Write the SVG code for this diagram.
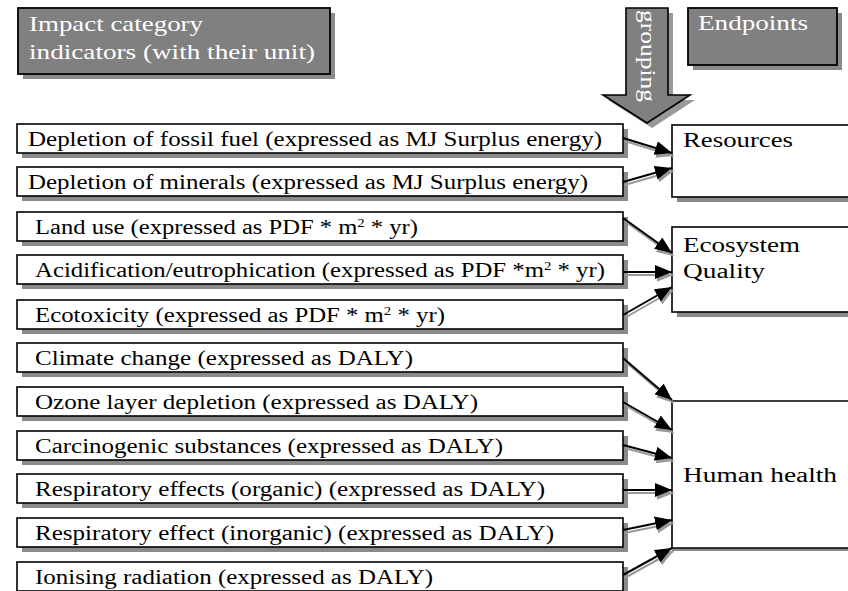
<svg xmlns="http://www.w3.org/2000/svg" width="848" height="591" viewBox="0 0 848 591">
<style>
.box{fill:#fff;stroke:#000;stroke-width:1.6}
.sh{fill:#8a8a8a}
.hdr{fill:#808080;stroke:#000;stroke-width:1.8}
.t{font-family:"Liberation Serif","Times New Roman",serif;font-size:20px;fill:#000}
.w{font-family:"Liberation Serif","Times New Roman",serif;font-size:21px;fill:#fff}
.ln{stroke:#000;stroke-width:2;fill:none;marker-end:url(#ah)}
.lns{stroke:#999;stroke-width:2;fill:none;marker-end:url(#ahs)}
</style>
<defs>
<marker id="ah" markerUnits="userSpaceOnUse" markerWidth="17" markerHeight="14" refX="17" refY="7" orient="auto"><path d="M0,0 L17,7 L0,14 z" fill="#000"/></marker>
<marker id="ahs" markerUnits="userSpaceOnUse" markerWidth="17" markerHeight="14" refX="17" refY="7" orient="auto"><path d="M0,0 L17,7 L0,14 z" fill="#999"/></marker>
</defs>
<rect width="848" height="591" fill="#fff"/>

<g id="header-impact">
<rect class="sh" x="23" y="13" width="312" height="66"/>
<rect class="hdr" x="18" y="8" width="312" height="66"/>
<text class="w" x="29" y="31" textLength="174" lengthAdjust="spacingAndGlyphs">Impact category</text>
<text class="w" x="29" y="59" textLength="286" lengthAdjust="spacingAndGlyphs">indicators (with their unit)</text>
</g>

<g id="grouping-arrow">
<path d="M631,13 L673,13 L673,100 L695,100 L652,128 L608,100 L631,100 z" fill="#999"/>
<path d="M626,8 L668,8 L668,95 L690,95 L647,123 L603,95 L626,95 z" fill="#808080" stroke="#000" stroke-width="1.6"/>
<text class="w" transform="translate(641,56) rotate(90)" text-anchor="middle" textLength="92" lengthAdjust="spacingAndGlyphs">grouping</text>
</g>

<g id="header-endpoints">
<rect class="sh" x="693" y="13" width="149" height="57"/>
<rect class="hdr" x="688" y="8" width="149" height="57"/>
<text class="w" x="698" y="30" textLength="110" lengthAdjust="spacingAndGlyphs">Endpoints</text>
</g>

<g id="ind1"><rect class="sh" x="22" y="129" width="606" height="29"/><rect class="box" x="17" y="124" width="606" height="29"/><text class="t" x="28" y="146" textLength="574" lengthAdjust="spacingAndGlyphs">Depletion of fossil fuel (expressed as MJ Surplus energy)</text></g>
<g id="ind2"><rect class="sh" x="22" y="172" width="606" height="29"/><rect class="box" x="17" y="167" width="606" height="29"/><text class="t" x="28" y="189" textLength="560" lengthAdjust="spacingAndGlyphs">Depletion of minerals (expressed as MJ Surplus energy)</text></g>
<g id="ind3"><rect class="sh" x="22" y="217" width="606" height="29"/><rect class="box" x="17" y="212" width="606" height="29"/><text class="t" x="35" y="234" textLength="383" lengthAdjust="spacingAndGlyphs">Land use (expressed as PDF * m<tspan dy="-7" font-size="12">2</tspan><tspan dy="7"> * yr)</tspan></text></g>
<g id="ind4"><rect class="sh" x="22" y="260" width="606" height="29"/><rect class="box" x="17" y="255" width="606" height="29"/><text class="t" x="35" y="277" textLength="570" lengthAdjust="spacingAndGlyphs">Acidification/eutrophication (expressed as PDF *m<tspan dy="-7" font-size="12">2</tspan><tspan dy="7"> * yr)</tspan></text></g>
<g id="ind5"><rect class="sh" x="22" y="305" width="606" height="29"/><rect class="box" x="17" y="300" width="606" height="29"/><text class="t" x="35" y="322" textLength="410" lengthAdjust="spacingAndGlyphs">Ecotoxicity (expressed as PDF * m<tspan dy="-7" font-size="12">2</tspan><tspan dy="7"> * yr)</tspan></text></g>
<g id="ind6"><rect class="sh" x="22" y="348" width="606" height="29"/><rect class="box" x="17" y="343" width="606" height="29"/><text class="t" x="35" y="365" textLength="378" lengthAdjust="spacingAndGlyphs">Climate change (expressed as DALY)</text></g>
<g id="ind7"><rect class="sh" x="22" y="392" width="606" height="29"/><rect class="box" x="17" y="387" width="606" height="29"/><text class="t" x="35" y="409" textLength="443" lengthAdjust="spacingAndGlyphs">Ozone layer depletion (expressed as DALY)</text></g>
<g id="ind8"><rect class="sh" x="22" y="436" width="606" height="29"/><rect class="box" x="17" y="431" width="606" height="29"/><text class="t" x="35" y="453" textLength="468" lengthAdjust="spacingAndGlyphs">Carcinogenic substances (expressed as DALY)</text></g>
<g id="ind9"><rect class="sh" x="22" y="479" width="606" height="29"/><rect class="box" x="17" y="474" width="606" height="29"/><text class="t" x="35" y="496" textLength="510" lengthAdjust="spacingAndGlyphs">Respiratory effects (organic) (expressed as DALY)</text></g>
<g id="ind10"><rect class="sh" x="22" y="523" width="606" height="29"/><rect class="box" x="17" y="518" width="606" height="29"/><text class="t" x="35" y="540" textLength="519" lengthAdjust="spacingAndGlyphs">Respiratory effect (inorganic) (expressed as DALY)</text></g>
<g id="ind11"><rect class="sh" x="22" y="567" width="606" height="29"/><rect class="box" x="17" y="562" width="606" height="29"/><text class="t" x="35" y="584" textLength="398" lengthAdjust="spacingAndGlyphs">Ionising radiation (expressed as DALY)</text></g>

<g id="ep-resources"><rect class="sh" x="677" y="130" width="200" height="72"/><rect class="box" x="672" y="125" width="200" height="72"/><text class="t" x="683" y="147" textLength="110" lengthAdjust="spacingAndGlyphs">Resources</text></g>
<g id="ep-ecosystem"><rect class="sh" x="677" y="232" width="200" height="85"/><rect class="box" x="672" y="227" width="200" height="85"/><text class="t" x="683" y="252" textLength="117" lengthAdjust="spacingAndGlyphs">Ecosystem</text><text class="t" x="683" y="278" textLength="82" lengthAdjust="spacingAndGlyphs">Quality</text></g>
<g id="ep-human"><rect class="sh" x="672" y="548" width="200" height="3"/><path d="M848,401 L672,401 L672,548 L848,548" fill="#fff" stroke="#000" stroke-width="1.6"/><text class="t" x="683" y="482" textLength="154" lengthAdjust="spacingAndGlyphs">Human health</text></g>

<g id="connectors">
<g transform="translate(1.5,3)">
<line class="lns" x1="623" y1="138" x2="672" y2="153"/>
<line class="lns" x1="623" y1="182" x2="672" y2="168"/>
<line class="lns" x1="623" y1="218" x2="672" y2="253"/>
<line class="lns" x1="623" y1="272" x2="672" y2="272"/>
<line class="lns" x1="623" y1="315" x2="672" y2="287"/>
<line class="lns" x1="623" y1="358" x2="672" y2="400"/>
<line class="lns" x1="623" y1="402" x2="672" y2="430"/>
<line class="lns" x1="623" y1="445" x2="672" y2="458"/>
<line class="lns" x1="623" y1="490" x2="672" y2="490"/>
<line class="lns" x1="623" y1="530" x2="672" y2="520"/>
<line class="lns" x1="623" y1="575" x2="672" y2="548"/>
</g>
<line class="ln" x1="623" y1="138" x2="672" y2="153"/>
<line class="ln" x1="623" y1="182" x2="672" y2="168"/>
<line class="ln" x1="623" y1="218" x2="672" y2="253"/>
<line class="ln" x1="623" y1="272" x2="672" y2="272"/>
<line class="ln" x1="623" y1="315" x2="672" y2="287"/>
<line class="ln" x1="623" y1="358" x2="672" y2="400"/>
<line class="ln" x1="623" y1="402" x2="672" y2="430"/>
<line class="ln" x1="623" y1="445" x2="672" y2="458"/>
<line class="ln" x1="623" y1="490" x2="672" y2="490"/>
<line class="ln" x1="623" y1="530" x2="672" y2="520"/>
<line class="ln" x1="623" y1="575" x2="672" y2="548"/>
</g>
</svg>
